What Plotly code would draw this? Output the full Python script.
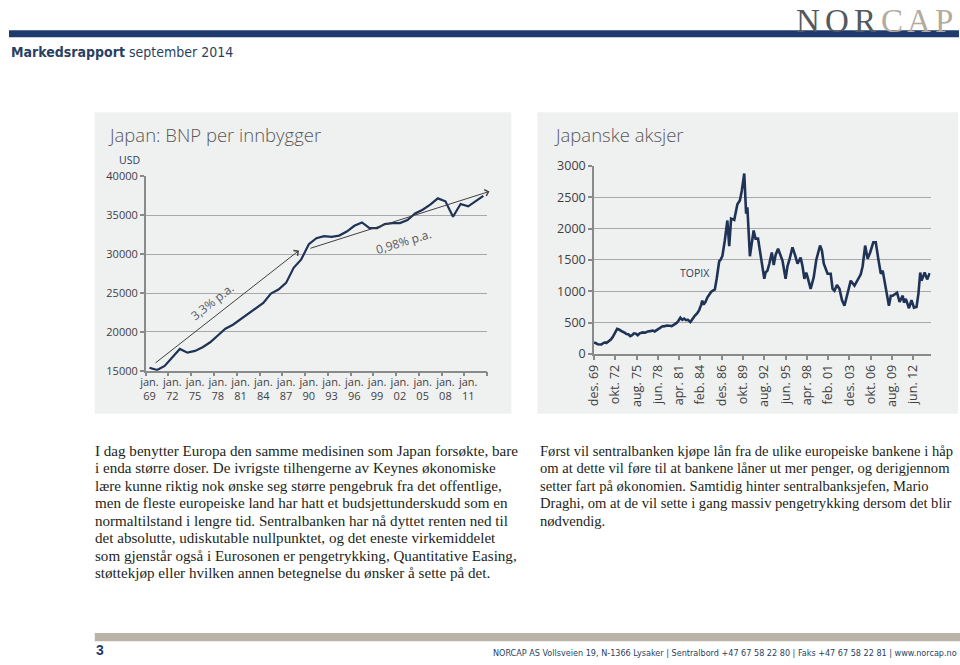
import plotly.graph_objects as go

W, H = 960, 665
# map page-pixel positions (as measured on the reference) to paper coordinates,
# allowing for the page margin / scaling seen in the photographed output
OX, SX, OY, SY = 9.5, 0.987, 8.8, 0.973
def PX(x): return max(0.0, min(1.0, ((x - OX) / SX) / W))
def PY(y): return max(0.0, min(1.0, 1 - ((y - OY) / SY) / H))

# ---------------- data ----------------
gdp_years = list(range(1969, 2014))
gdp_usd = [15390, 15090, 15610, 16680, 17810, 17330, 17550, 18020, 18660, 19530,
           20400, 20920, 21640, 22290, 22990, 23720, 24930, 25450, 26300, 28250,
           29330, 31280, 32060, 32310, 32220, 32390, 32910, 33650, 34080, 33350,
           33350, 33870, 34000, 34000, 34390, 35240, 35720, 36370, 37180, 36800,
           34810, 36460, 36150, 36800, 37490]
gdp_tick_years = list(range(1969, 2012, 3))
gdp_tick_text = ["jan.<br>%02d" % (y % 100) for y in gdp_tick_years]
gdp_y_ticks = [15000, 20000, 25000, 30000, 35000, 40000]

trend_labels = ["3,3% p.a.", "0,98% p.a."]
trend_tail_x = [1969.6, 1990.0]
trend_tail_y = [15860, 30690]
trend_head_x = [1988.7, 2013.8]
trend_head_y = [30470, 38070]
trend_label_x = [1977.3, 2002.5]
trend_label_y = [23920, 31650]
trend_label_angle = [-38, -17]

topix_dates = ["1969-12", "1970-03", "1970-06", "1970-09", "1970-12", "1971-03", "1971-06", "1971-08",
               "1971-12", "1972-03", "1972-06", "1972-09", "1973-01", "1973-04", "1973-07", "1973-10",
               "1974-01", "1974-04", "1974-07", "1974-10", "1975-01", "1975-04", "1975-07", "1975-10",
               "1976-01", "1976-06", "1976-10", "1977-02", "1977-06", "1977-10", "1978-01", "1978-05",
               "1978-09", "1979-01", "1979-05", "1979-09", "1980-01", "1980-04", "1980-08", "1980-12",
               "1981-03", "1981-06", "1981-09", "1981-12", "1982-03", "1982-06", "1982-10", "1983-01",
               "1983-05", "1983-09", "1983-12", "1984-03", "1984-05", "1984-07", "1984-10", "1985-01",
               "1985-04", "1985-07", "1985-10", "1986-01", "1986-04", "1986-08", "1986-10", "1987-01",
               "1987-05", "1987-09", "1987-12", "1988-03", "1988-08", "1989-01", "1989-05", "1989-08",
               "1989-12", "1990-03", "1990-05", "1990-09", "1991-03", "1991-06", "1991-10", "1991-12",
               "1992-03", "1992-08", "1992-10", "1993-01", "1993-04", "1993-08", "1993-11", "1994-02",
               "1994-06", "1994-09", "1995-01", "1995-06", "1995-09", "1995-12", "1996-05", "1996-09",
               "1997-01", "1997-06", "1997-09", "1997-12", "1998-03", "1998-05", "1998-10", "1999-03",
               "1999-07", "2000-01", "2000-04", "2000-07", "2001-01", "2001-06", "2001-09", "2001-12",
               "2002-04", "2002-08", "2002-12", "2003-04", "2003-09", "2004-02", "2004-08", "2005-01",
               "2005-06", "2005-09", "2006-01", "2006-05", "2006-09", "2007-02", "2007-06", "2007-10",
               "2008-02", "2008-05", "2008-09", "2009-01", "2009-03", "2009-06", "2009-09", "2010-04",
               "2010-08", "2011-01", "2011-03", "2011-06", "2011-11", "2012-03", "2012-07", "2012-11",
               "2013-02", "2013-05", "2013-07", "2013-12", "2014-04", "2014-08"]
topix_values = [180, 175, 155, 150, 152, 175, 185, 175,
                200, 230, 270, 320, 400, 390, 365, 355,
                340, 320, 315, 285, 300, 330, 325, 300,
                330, 345, 340, 360, 365, 375, 360, 390,
                420, 440, 445, 455, 450, 445, 470, 495,
                530, 580, 545, 565, 540, 545, 510, 560,
                610, 650, 700, 780, 850, 790, 830, 900,
                950, 990, 1010, 1030, 1200, 1480, 1500, 1560,
                1810, 2130, 1720, 2160, 2140, 2390, 2450, 2600,
                2880, 2240, 2340, 1560, 1970, 1840, 1840, 1700,
                1480, 1200, 1300, 1330, 1440, 1620, 1420, 1580,
                1680, 1600, 1490, 1200, 1400, 1500, 1700, 1580,
                1440, 1540, 1400, 1200, 1300, 1230, 1040, 1225,
                1500, 1730, 1650, 1440, 1280, 1280, 1040, 1010,
                1100, 1040, 860, 770, 985, 1170, 1090, 1170,
                1270, 1400, 1730, 1520, 1620, 1780, 1780, 1520,
                1280, 1330, 1090, 825, 770, 930, 930, 980,
                830, 930, 820, 880, 730, 860, 740, 750,
                960, 1300, 1170, 1300, 1190, 1290]
topix_tick_dates = ["1969-12-01", "1972-10-01", "1975-08-01", "1978-06-01", "1981-04-01",
                    "1984-02-01", "1986-12-01", "1989-10-01", "1992-08-01", "1995-06-01",
                    "1998-04-01", "2001-02-01", "2003-12-01", "2006-10-01", "2009-08-01",
                    "2012-06-01"]
topix_tick_text = ["des. 69", "okt. 72", "aug. 75", "jun. 78", "apr. 81", "feb. 84", "des. 86",
                   "okt. 89", "aug. 92", "jun. 95", "apr. 98", "feb. 01", "des. 03", "okt. 06",
                   "aug. 09", "jun. 12"]
topix_y_ticks = [0, 500, 1000, 1500, 2000, 2500, 3000]

left_lines = ["I dag benytter Europa den samme medisinen som Japan forsøkte, bare",
              "i enda større doser. De ivrigste tilhengerne av Keynes økonomiske",
              "lære kunne riktig nok ønske seg større pengebruk fra det offentlige,",
              "men de fleste europeiske land har hatt et budsjettunderskudd som en",
              "normaltilstand i lengre tid. Sentralbanken har nå dyttet renten ned til",
              "det absolutte, udiskutable nullpunktet, og det eneste virkemiddelet",
              "som gjenstår også i Eurosonen er pengetrykking, Quantitative Easing,",
              "støttekjøp eller hvilken annen betegnelse du ønsker å sette på det."]
right_lines = ["Først vil sentralbanken kjøpe lån fra de ulike europeiske bankene i håp",
               "om at dette vil føre til at bankene låner ut mer penger, og derigjennom",
               "setter fart på økonomien. Samtidig hinter sentralbanksjefen, Mario",
               "Draghi, om at de vil sette i gang massiv pengetrykking dersom det blir",
               "nødvendig."]
footer_text = ("NORCAP AS Vollsveien 19, N-1366 Lysaker | Sentralbord +47 67 58 22 80 | "
               "Faks +47 67 58 22 81 | www.norcap.no")

# ---------------- style ----------------
NAVY = "#1f3b6e"
LINE = "#1f3356"
GRID = "#a8a8a8"
AXIS = "#8a8a8a"
TICKC = "#3f3f3f"
PANEL = "#eff0f0"
SANS = "Open Sans, Noto Sans, sans-serif"
SERIF = "Liberation Serif, Times New Roman, serif"
NARROW = "Liberation Sans Narrow, DejaVu Sans Condensed, Liberation Sans, sans-serif"

fig = go.Figure()
fig.add_trace(go.Scatter(x=gdp_years, y=gdp_usd, mode="lines",
                         line=dict(color=LINE, width=2.2), xaxis="x", yaxis="y",
                         showlegend=False, hoverinfo="skip"))
fig.add_trace(go.Scatter(x=topix_dates, y=topix_values, mode="lines",
                         line=dict(color=LINE, width=2.6), xaxis="x2", yaxis="y2",
                         showlegend=False, hoverinfo="skip"))

shapes = [
    dict(type="rect", xref="paper", yref="paper", x0=0, x1=PX(956), y0=PY(37), y1=PY(30),
         fillcolor=NAVY, line_width=0, layer="below"),
    dict(type="rect", xref="paper", yref="paper", x0=PX(95), x1=PX(510), y0=PY(413), y1=PY(112),
         fillcolor=PANEL, line_width=0, layer="below"),
    dict(type="rect", xref="paper", yref="paper", x0=PX(536), x1=PX(955), y0=PY(413), y1=PY(112),
         fillcolor=PANEL, line_width=0, layer="below"),
    dict(type="rect", xref="paper", yref="paper", x0=PX(95), x1=PX(958), y0=PY(640), y1=PY(632),
         fillcolor="#b9b3a8", line_width=0, layer="below"),
]

ann = []
logo_letters = ["N", "O", "R", "C", "A", "P"]
logo_x = [806, 834, 862, 889, 916, 941]
for i, (ch, lx) in enumerate(zip(logo_letters, logo_x)):
    ann.append(dict(text=ch, x=PX(lx), y=1 - 12 / H, xref="paper", yref="paper",
                    xanchor="center", yanchor="middle", showarrow=False,
                    font=dict(family=SERIF, size=33, color="#55595d" if i < 3 else "#b3ab9f")))
ann.append(dict(text="<b>Markedsrapport</b> september 2014", x=PX(1), y=PY(52),
                xref="paper", yref="paper", xanchor="left", yanchor="middle", showarrow=False,
                font=dict(family=NARROW, size=14, color="#2a3f61")))
ann.append(dict(text="Japan: BNP per innbygger", x=PX(106), y=PY(134), xref="paper", yref="paper",
                xanchor="left", yanchor="middle", showarrow=False,
                font=dict(family=SANS, size=18.5, color="#595959", weight=300)))
ann.append(dict(text="Japanske aksjer", x=PX(551), y=PY(134), xref="paper", yref="paper",
                xanchor="left", yanchor="middle", showarrow=False,
                font=dict(family=SANS, size=18.5, color="#595959", weight=300)))
ann.append(dict(text="USD", x=PX(130), y=PY(160), xref="paper", yref="paper",
                xanchor="center", yanchor="middle", showarrow=False,
                font=dict(family=SANS, size=10.5, color="#2a3f61")))
ann.append(dict(text="TOPIX", x="1983-05-01", y=1290, xref="x2", yref="y2",
                xanchor="center", yanchor="middle", showarrow=False,
                font=dict(family=SANS, size=10.5, color="#2a3f61")))
for i in range(2):
    ann.append(dict(x=trend_head_x[i], y=trend_head_y[i], ax=trend_tail_x[i], ay=trend_tail_y[i],
                    xref="x", yref="y", axref="x", ayref="y", text="", showarrow=True,
                    arrowhead=4, arrowsize=1.3, arrowwidth=1, arrowcolor="#404040"))
    ann.append(dict(x=trend_label_x[i], y=trend_label_y[i], xref="x", yref="y",
                    text=trend_labels[i], textangle=trend_label_angle[i], showarrow=False,
                    font=dict(family=SANS, size=12, color="#595959")))
for i, t in enumerate(left_lines):
    ann.append(dict(text=t, x=PX(93), y=PY(450 + i * 17.45), xref="paper", yref="paper",
                    xanchor="left", yanchor="middle", showarrow=False,
                    font=dict(family=SERIF, size=15.1, color="#231f20")))
for i, t in enumerate(right_lines):
    ann.append(dict(text=t, x=PX(537), y=PY(450 + i * 17.45), xref="paper", yref="paper",
                    xanchor="left", yanchor="middle", showarrow=False,
                    font=dict(family=SERIF, size=14.6, color="#231f20")))
ann.append(dict(text="<b>3</b>", x=PX(94), y=7 / H, xref="paper", yref="paper",
                xanchor="left", yanchor="middle", showarrow=False,
                font=dict(family="Liberation Sans, Arial, sans-serif", size=14, color=NAVY)))
ann.append(dict(text=footer_text, x=PX(956), y=4.5 / H, xref="paper", yref="paper",
                xanchor="right", yanchor="middle", showarrow=False,
                font=dict(family=NARROW, size=9, color="#2a3f61")))

fig.update_layout(
    width=W, height=H, margin=dict(l=0, r=0, t=0, b=0),
    paper_bgcolor="white", plot_bgcolor="rgba(0,0,0,0)",
    shapes=shapes, annotations=ann, showlegend=False,
    xaxis=dict(domain=[PX(145.7), PX(485.9)], range=[1968.5, 2013.5], anchor="y",
               tickmode="array", tickvals=gdp_tick_years, ticktext=gdp_tick_text,
               ticks="", showgrid=False, zeroline=False,
               showline=True, linecolor=AXIS, linewidth=1.5,
               tickfont=dict(family=SANS, size=11, color=TICKC),
               minor=dict(tickmode="array", tickvals=[1968.5 + 3 * k for k in range(16)],
                          ticks="outside", ticklen=4, tickcolor=AXIS, tickwidth=1.5, showgrid=False)),
    yaxis=dict(domain=[PY(370), PY(176)], range=[15000, 40000], anchor="x",
               tickmode="array", tickvals=gdp_y_ticks, tickformat="d", ticks="outside", ticklen=4,
               tickcolor=AXIS, tickwidth=1.5,
               showgrid=True, gridcolor=GRID, gridwidth=1.3, zeroline=False,
               showline=True, linecolor=AXIS, linewidth=1.5,
               tickfont=dict(family=SANS, size=11, color=TICKC)),
    xaxis2=dict(domain=[PX(592.3), PX(927.7)], range=["1969-12-01", "2014-09-15"], anchor="y2",
                type="date", tickmode="array", tickvals=topix_tick_dates, ticktext=topix_tick_text,
                tickangle=-90, ticks="outside", ticklen=4, tickcolor=AXIS, tickwidth=1.5,
                showgrid=False, zeroline=False, showline=True, linecolor=AXIS, linewidth=1.5,
                tickfont=dict(family=SANS, size=12.5, color=TICKC)),
    yaxis2=dict(domain=[PY(353.3), PY(165.5)], range=[0, 3000], anchor="x2",
                tickmode="array", tickvals=topix_y_ticks, ticks="outside", ticklen=4,
                tickcolor=AXIS, tickwidth=1.5,
                showgrid=True, gridcolor=GRID, gridwidth=1.3, zeroline=False,
                showline=True, linecolor=AXIS, linewidth=1.5,
                tickfont=dict(family=SANS, size=12.5, color=TICKC)),
)

fig.write_html(
    "out.html",
    config={"displayModeBar": False},
    post_script=("document.documentElement.style.margin='0px';"
                 "document.documentElement.style.overflow='hidden';"
                 "document.body.style.margin='0px';"
                 "document.body.style.overflow='hidden';"
                 "var g=document.getElementById('{plot_id}');"
                 "g.style.position='fixed';g.style.left='0px';g.style.top='0px';"),
)
